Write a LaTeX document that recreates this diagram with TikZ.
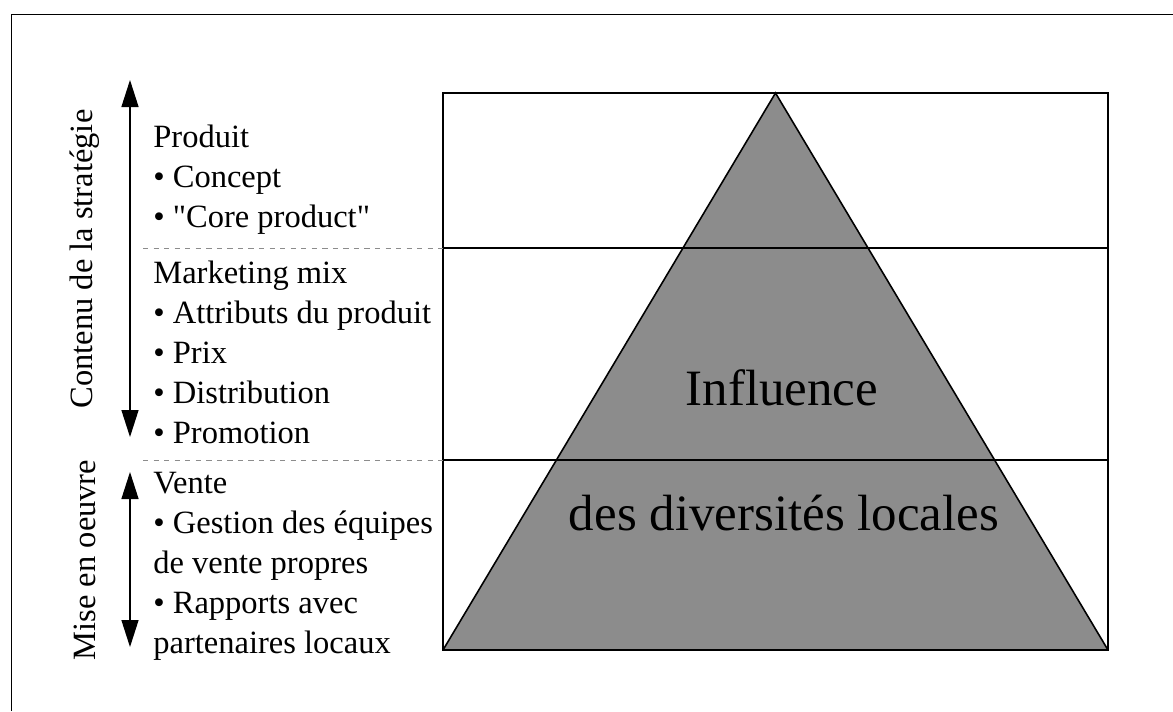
\documentclass[tikz,border=0pt]{standalone}
\usepackage{fontspec}
\setmainfont{Liberation Serif}
\usetikzlibrary{arrows.meta}

\begin{document}
\begin{tikzpicture}[
    item/.style={anchor=base west,inner sep=0pt,font=\fontsize{18.5}{22}\selectfont},
    sidelabel/.style={rotate=90,inner sep=0pt,font=\fontsize{18.5}{22}\selectfont},
    bigtext/.style={anchor=base,inner sep=0pt,font=\fontsize{29}{34}\selectfont},
    sidearrow/.style={{Triangle[length=5.4mm,width=3.4mm]}-{Triangle[length=5.4mm,width=3.4mm]},line width=0.8pt},
    sep/.style={dashed,black!45,line width=0.5pt},
    frame/.style={line width=0.9pt},
  ]
    \useasboundingbox (0,0) rectangle (23.46,-14.22);
    % outer frame, only top and left edges show
    \draw[line width=0.7pt] (0.23,-14.22) -- (0.23,-0.29) -- (23.46,-0.29);

    % box with the pyramid
    \coordinate (tl) at (8.86,-1.86);
    \coordinate (bl) at (8.86,-13.0);
    \coordinate (br) at (22.16,-13.0);
    \coordinate (apex) at (15.51,-1.86);
    \coordinate (m1l) at (8.86,-4.96);
    \coordinate (m1r) at (22.16,-4.96);
    \coordinate (m2l) at (8.86,-9.20);
    \coordinate (m2r) at (22.16,-9.20);
    \fill[black!45] (bl) -- (apex) -- (br) -- cycle;
    \draw[frame] (bl) -- (apex) -- (br);
    \draw[frame] (tl) rectangle (br);
    \draw[frame] (m1l) -- (m1r);
    \draw[frame] (m2l) -- (m2r);

    \node[bigtext] (infl) at (15.64,-8.10) {Influence};
    \node[bigtext] (divers) at (15.68,-10.60) {des diversités locales};

    % dashed separators on the left
    \coordinate (d1) at (2.86,-4.96);
    \coordinate (d2) at (2.86,-9.20);
    \draw[sep] (d1) -- (m1l);
    \draw[sep] (d2) -- (m2l);

    % side arrows and labels
    \coordinate (a1t) at (2.60,-1.60);
    \coordinate (a1b) at (2.60,-8.74);
    \coordinate (a2t) at (2.60,-9.44);
    \coordinate (a2b) at (2.60,-12.94);
    \draw[sidearrow] (a1b) -- (a1t);
    \draw[sidearrow] (a2b) -- (a2t);
    \node[sidelabel] (strat) at (1.70,-5.18) {Contenu de la stratégie};
    \node[sidelabel] (mise) at (1.70,-11.20) {Mise en oeuvre};

    % lists
    \foreach \t [count=\i] in {Produit,• Concept,• \textquotedbl Core product\textquotedbl}
      \node[item] (prod\i) at (3.06,{-2.14-0.8*\i}) {\t};
    \foreach \t [count=\i] in {Marketing mix,• Attributs du produit,• Prix,• Distribution,• Promotion}
      \node[item] (mix\i) at (3.06,{-4.86-0.8*\i}) {\t};
    \foreach \t [count=\i] in {Vente,• Gestion des équipes,de vente propres,• Rapports avec,partenaires locaux}
      \node[item] (vente\i) at (3.06,{-9.06-0.8*\i}) {\t};
\end{tikzpicture}
\end{document}
